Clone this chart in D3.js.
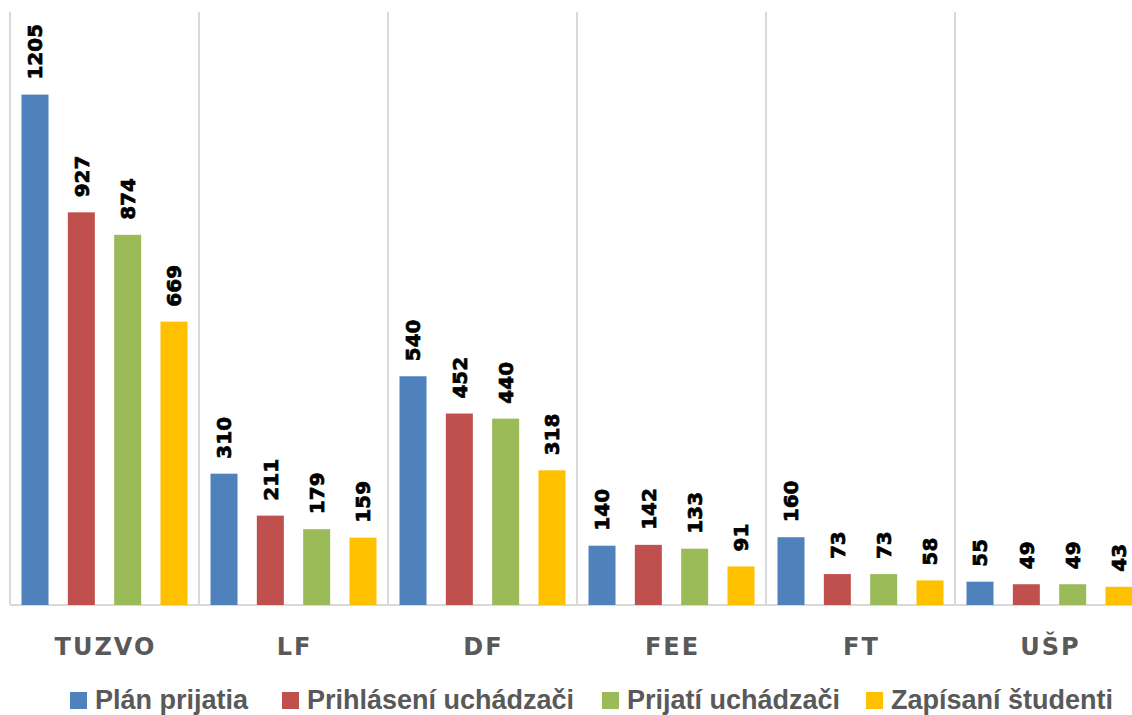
<!DOCTYPE html>
<html>
<head>
<meta charset="utf-8">
<script src="https://cdn.jsdelivr.net/npm/d3@7"></script>
<style>
  html, body { margin: 0; padding: 0; background: #fff; }
  svg { display: block; }
</style>
</head>
<body>
<svg id="chart" width="1132" height="715"></svg>
<script>
// faculties on the x axis
const CATEGORIES = ["TUZVO", "LF", "DF", "FEE", "FT", "UŠP"];
const SERIES = ["Plán prijatia", "Prihlásení uchádzači", "Prijatí uchádzači", "Zapísaní študenti"];
const COLORS = ["#4F81BD", "#C0504D", "#9BBB59", "#FFC000"];

const PLAN = [1205, 310, 540, 140, 160, 55];
const PRIHLASENI = [927, 211, 452, 142, 73, 49];
const PRIJATI = [874, 179, 440, 133, 73, 49];
const ZAPISANI = [669, 159, 318, 91, 58, 43];

const Y_MAX = 1400;

const VALUES = [PLAN, PRIHLASENI, PRIJATI, ZAPISANI];

// legend square positions
const LEGEND_X = [70, 282, 602, 866];

const svg = d3.select("#chart");

const plot = { left: 10, right: 1144, top: 12, bottom: 605 };

const x = d3.scaleBand().domain(CATEGORIES).range([plot.left, plot.right]).padding(0);
const xInner = d3.scaleBand()
  .domain(SERIES)
  .range([11.5, x.bandwidth() - 11.5])
  .paddingInner(0.417);
const y = d3.scaleLinear().domain([0, Y_MAX]).range([plot.bottom, plot.top]);

// vertical separators between groups
svg.append("g")
  .selectAll("line")
  .data(CATEGORIES)
  .enter()
  .append("line")
  .attr("x1", (d) => x(d))
  .attr("x2", (d) => x(d))
  .attr("y1", plot.top)
  .attr("y2", plot.bottom)
  .attr("stroke", "#d9d9d9")
  .attr("stroke-width", 2);

// baseline
svg.append("line")
  .attr("x1", plot.left)
  .attr("x2", plot.right)
  .attr("y1", y(0))
  .attr("y2", y(0))
  .attr("stroke", "#d9d9d9")
  .attr("stroke-width", 2);

// bars + rotated value labels
const rows = [];
CATEGORIES.forEach((cat, ci) => {
  SERIES.forEach((s, si) => {
    rows.push({ cat, series: s, si, value: VALUES[si][ci] });
  });
});

const bars = svg.append("g");

bars.selectAll("rect")
  .data(rows)
  .enter()
  .append("rect")
  .attr("x", (d) => x(d.cat) + xInner(d.series))
  .attr("y", (d) => y(d.value))
  .attr("width", xInner.bandwidth())
  .attr("height", (d) => y(0) - y(d.value))
  .attr("fill", (d) => COLORS[d.si]);

bars.selectAll("text")
  .data(rows)
  .enter()
  .append("text")
  .attr("transform", (d) => {
    const cx = x(d.cat) + xInner(d.series) + xInner.bandwidth() / 2;
    return "translate(" + cx + "," + (y(d.value) - 15) + ") rotate(-90)";
  })
  .attr("dy", "0.36em")
  .attr("text-anchor", "start")
  .attr("font-family", "DejaVu Sans")
  .attr("font-weight", "bold")
  .attr("font-size", 20)
  .attr("fill", "#000")
  .attr("stroke", "#000")
  .attr("stroke-width", 0.7)
  .text((d) => d.value);

// category labels
svg.append("g")
  .selectAll("text")
  .data(CATEGORIES)
  .enter()
  .append("text")
  .attr("x", (d) => x(d) + x.bandwidth() / 2 + 1)
  .attr("y", 655)
  .attr("text-anchor", "middle")
  .attr("font-family", "DejaVu Sans")
  .attr("font-weight", "bold")
  .attr("font-size", 24)
  .attr("letter-spacing", 2)
  .attr("fill", "#595959")
  .text((d) => d);

// legend
const legend = svg.append("g")
  .selectAll("g")
  .data(SERIES)
  .enter()
  .append("g")
  .attr("transform", (d, i) => "translate(" + LEGEND_X[i] + ",0)");

legend.append("rect")
  .attr("x", 0)
  .attr("y", 692)
  .attr("width", 17)
  .attr("height", 17)
  .attr("fill", (d, i) => COLORS[i]);

legend.append("text")
  .attr("x", 25)
  .attr("y", 709)
  .attr("font-family", "Liberation Sans")
  .attr("font-weight", "bold")
  .attr("font-size", 27)
  .attr("fill", "#595959")
  .text((d) => d);
</script>
</body>
</html>
